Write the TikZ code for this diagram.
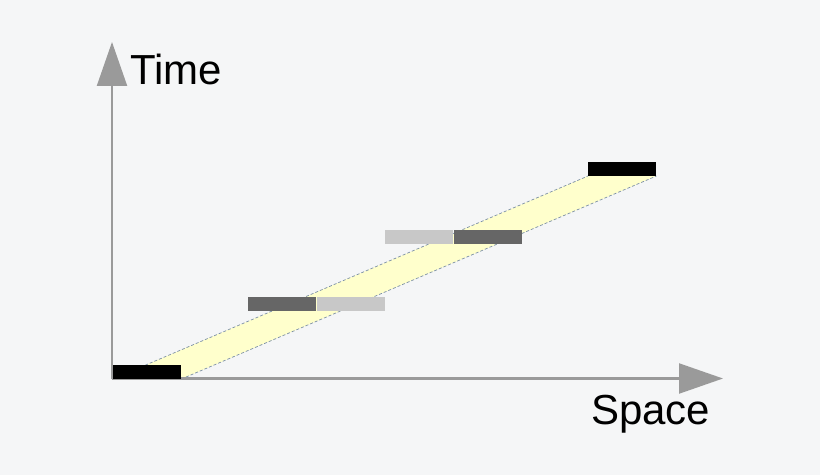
\documentclass[tikz,border=0pt]{standalone}
\usepackage{fontspec}
\setmainfont{Liberation Sans}
\usetikzlibrary{arrows.meta,positioning}

\definecolor{bgcol}{HTML}{F5F6F7}
\definecolor{axiscol}{HTML}{9A9A9A}
\definecolor{bandcol}{HTML}{FFFFCC}
\definecolor{dashcol}{HTML}{7C90A6}
\definecolor{darkbar}{HTML}{666666}
\definecolor{lightbar}{HTML}{C8C8C8}

\pgfdeclarelayer{bg}
\pgfdeclarelayer{band}
\pgfsetlayers{bg,band,main}

\begin{document}
\begin{tikzpicture}[
    x=1pt, y=1pt,
    axis/.style={draw=axiscol, line width=2.2pt, -{Triangle[length=44pt, width=30pt]}},
    barbox/.style={rectangle, inner sep=0pt, minimum width=68pt, minimum height=13.5pt, anchor=south west},
    edge/.style={draw=dashcol, line width=0.7pt, dash pattern=on 3pt off 2pt},
    axislabel/.style={font=\fontsize{42}{50}\selectfont, inner sep=0pt}
]

% Background
\begin{pgfonlayer}{bg}
\fill[bgcol] (0,0) rectangle (820,475);
\end{pgfonlayer}
\useasboundingbox (0,0) rectangle (820,475);

% Axes
\coordinate (origin) at (112,96.5);
\coordinate (ytip) at (112,433);
\coordinate (xtip) at (723,96.5);
\draw[axis] (origin) -- (ytip);
\draw[axis] (origin) -- (xtip);

\node[axislabel, anchor=base west] (time) at (130,390) {Time};
\node[axislabel, anchor=base west] (space) at (591,51) {Space};

% Bars
\node[barbox, fill=black] (b0) at (113,96) {};
\node[barbox, fill=darkbar] (b1d) at (248,164) {};
\node[barbox, fill=lightbar, right=0pt of b1d] (b1l) {};
\node[barbox, fill=lightbar] (b2l) at (385,231) {};
\node[barbox, fill=darkbar, right=0pt of b2l] (b2d) {};
\node[barbox, fill=black] (b3) at (588,299) {};

% Band
\begin{pgfonlayer}{band}
\fill[bandcol] (b0.south west) -- (b0.south east) -- (b3.south east) -- (b3.south west) -- cycle;
\draw[edge] (b0.south west) -- (b3.south west);
\draw[edge] (b0.south east) -- (b3.south east);
\end{pgfonlayer}

\end{tikzpicture}
\end{document}
